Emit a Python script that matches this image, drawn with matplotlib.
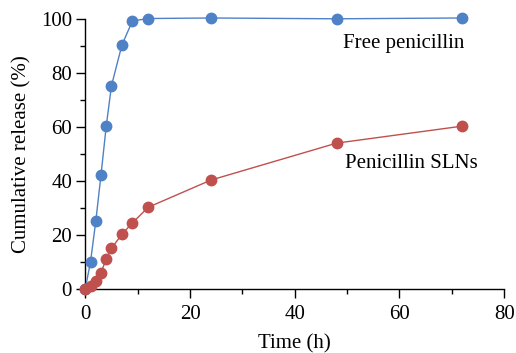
import matplotlib
matplotlib.use("Agg")
import matplotlib.pyplot as plt
from matplotlib.ticker import MultipleLocator

time_free = [0, 1, 2, 3, 4, 5, 7, 9, 12, 24, 48, 72]
release_free = [0, 10, 25, 42.2, 60.3, 75.3, 90.4, 99.3, 100.2, 100.4, 100.1, 100.4]
time_sln = [0, 1, 2, 3, 4, 5, 7, 9, 12, 24, 48, 72]
release_sln = [0, 1, 3, 6, 11, 15, 20.2, 24.4, 30.2, 40.3, 54, 60.3]

plt.rcParams['font.family'] = ['Liberation Serif', 'DejaVu Serif']

fig = plt.figure(figsize=(5.16, 3.53), dpi=100)
ax = fig.add_axes([0.1653, 0.182, 0.8117, 0.764])

blue = '#4f81c7'
red = '#c0504d'
ax.plot(time_free, release_free, '-o', color=blue, lw=1.0, ms=7.5, clip_on=False, zorder=3)
ax.plot(time_sln, release_sln, '-o', color=red, lw=1.0, ms=7.5, clip_on=False, zorder=4)

ax.set_xlim(0, 80)
ax.set_ylim(0, 100)
ax.xaxis.set_major_locator(MultipleLocator(20))
ax.xaxis.set_minor_locator(MultipleLocator(10))
ax.yaxis.set_major_locator(MultipleLocator(20))
ax.yaxis.set_minor_locator(MultipleLocator(10))
for s in ['top', 'right']:
    ax.spines[s].set_visible(False)
for s in ['left', 'bottom']:
    ax.spines[s].set_linewidth(1.0)
ax.tick_params(which='major', length=6.5, width=1.0, labelsize=15, direction='out')
ax.tick_params(axis='x', which='major', pad=5.5)
ax.tick_params(axis='y', which='major', pad=3)
ax.tick_params(which='minor', length=3.8, width=1.0, direction='out')

ax.set_xlabel('Time (h)', fontsize=15, labelpad=7)
ax.set_ylabel('Cumulative release (%)', fontsize=15, labelpad=7)

ax.text(49.2, 91, 'Free penicillin', fontsize=15, va='center', ha='left')
ax.text(49.6, 46.6, 'Penicillin SLNs', fontsize=15, va='center', ha='left')

fig.savefig('out.png', dpi=100)
